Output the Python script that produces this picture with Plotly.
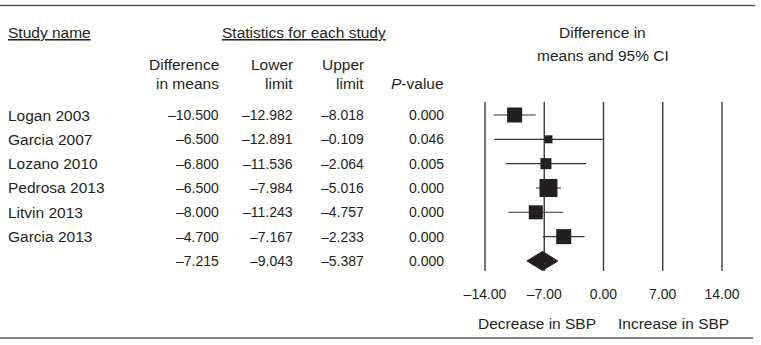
import plotly.graph_objects as go

# ---------------- data ----------------
studies = ["Logan 2003", "Garcia 2007", "Lozano 2010", "Pedrosa 2013", "Litvin 2013", "Garcia 2013"]
diff_means = [-10.500, -6.500, -6.800, -6.500, -8.000, -4.700]
lower_limit = [-12.982, -12.891, -11.536, -7.984, -11.243, -7.167]
upper_limit = [-8.018, -0.109, -2.064, -5.016, -4.757, -2.233]
p_values = [0.000, 0.046, 0.005, 0.000, 0.000, 0.000]
weights = [19.5, 5.5, 10.5, 28.0, 17.0, 19.5]  # relative study weights (%)

summary_mean = -7.215
summary_lower = -9.043
summary_upper = -5.387
summary_p = 0.000

tick_values = [-14, -7, 0, 7, 14]
tick_labels = ["–14.00", "–7.00", "0.00", "7.00", "14.00"]

# ---------------- layout helpers ----------------
W, H = 761, 345
FONT = "Liberation Sans, Arial, sans-serif"
TXT = "#231f20"
TS = 15.5   # text label size
NS = 14     # number size


def px(x):
    return x / W


def py(y):
    return 1 - y / H


def fmt(v):
    return f"{v:.3f}".replace("-", "–")


n = len(studies)
rows = list(range(1, n + 1))
sum_row = n + 1

fig = go.Figure()

# CI lines + squares
fig.add_trace(go.Scatter(
    x=diff_means, y=rows, mode="markers",
    marker=dict(symbol="square", color="#231f20", opacity=1,
                size=[3.4 * w ** 0.5 for w in weights], line=dict(width=0)),
    error_x=dict(type="data", symmetric=False,
                 array=[u - m for u, m in zip(upper_limit, diff_means)],
                 arrayminus=[m - l for m, l in zip(diff_means, lower_limit)],
                 width=0, thickness=1.1, color="#333333"),
    hoverinfo="skip", showlegend=False, cliponaxis=False,
))

# summary diamond
hd = 0.39
fig.add_trace(go.Scatter(
    x=[summary_lower, summary_mean, summary_upper, summary_mean, summary_lower],
    y=[sum_row, sum_row - hd, sum_row, sum_row + hd, sum_row],
    mode="lines", fill="toself", fillcolor="#231f20",
    line=dict(color="#231f20", width=1),
    hoverinfo="skip", showlegend=False,
))

shapes = []
# vertical reference lines
for t in tick_values:
    shapes.append(dict(type="line", xref="x", yref="y", x0=t, x1=t, y0=0.47, y1=sum_row + 0.41,
                       line=dict(color="#3a3a3a", width=1.4), layer="below"))
# horizontal rules
shapes.append(dict(type="line", xref="paper", yref="paper", x0=0, x1=px(755), y0=py(5.5), y1=py(5.5),
                   line=dict(color="#555555", width=1.5)))
shapes.append(dict(type="line", xref="paper", yref="paper", x0=0, x1=px(753), y0=py(338), y1=py(338),
                   line=dict(color="#555555", width=1.5)))

ann = []


def add(text, x, y, xanchor="left", size=TS, yref="paper"):
    ann.append(dict(text=text, x=x, y=y, xref="paper", yref=yref, xanchor=xanchor,
                    yanchor="middle", showarrow=False, borderpad=0,
                    font=dict(family=FONT, size=size, color=TXT)))


# headers
add("<u>Study name</u>", px(7), py(32))
add("<u>Statistics for each study</u>", px(303.5), py(32), "center")
add("Difference in", px(602), py(32), "center")
add("means and 95% CI", px(603), py(55), "center")
add("Difference", px(220), py(64), "right")
add("in means", px(220), py(83), "right")
add("Lower", px(294), py(64), "right")
add("limit", px(294), py(83), "right")
add("Upper", px(365), py(64), "right")
add("limit", px(365), py(83), "right")
add("<i>P</i>-value", px(445), py(83), "right")

# rows
col_x = [px(220), px(294), px(365), px(445)]
for i in range(n):
    r = rows[i]
    add(studies[i], px(7), r, "left", TS, "y")
    add(fmt(diff_means[i]), col_x[0], r, "right", NS, "y")
    add(fmt(lower_limit[i]), col_x[1], r, "right", NS, "y")
    add(fmt(upper_limit[i]), col_x[2], r, "right", NS, "y")
    add(f"{p_values[i]:.3f}", col_x[3], r, "right", NS, "y")
add(fmt(summary_mean), col_x[0], sum_row, "right", NS, "y")
add(fmt(summary_lower), col_x[1], sum_row, "right", NS, "y")
add(fmt(summary_upper), col_x[2], sum_row, "right", NS, "y")
add(f"{summary_p:.3f}", col_x[3], sum_row, "right", NS, "y")

# footer
add("Decrease in SBP", px(536.5), py(323), "center")
add("Increase in SBP", px(673), py(323), "center")

# axis geometry: -14 -> 485px, 14 -> 722px
ppu = (722 - 485) / 28.0
x0_px = 485 - ppu * 1
x1_px = 722 + ppu * 1
row_gap = 24.33
y_top = 1 - 115 / row_gap
y_bot = 1 + (H - 115) / row_gap

fig.update_layout(
    width=W, height=H,
    margin=dict(l=0, r=0, t=0, b=0, pad=0, autoexpand=False),
    paper_bgcolor="white", plot_bgcolor="rgba(0,0,0,0)",
    xaxis=dict(domain=[px(x0_px), px(x1_px)], range=[-15, 15], anchor="free", position=py(284),
               tickvals=tick_values, ticktext=tick_labels, showgrid=False, zeroline=False,
               showline=False, ticks="", tickfont=dict(family=FONT, size=14, color=TXT),
               fixedrange=True, automargin=False),
    yaxis=dict(domain=[0, 1], range=[y_bot, y_top], visible=False, fixedrange=True,
               automargin=False),
    shapes=shapes, annotations=ann,
    showlegend=False,
)

fig.write_html("out.html", config={"displayModeBar": False},
               post_script="document.body.style.margin='0';document.body.style.padding='0';")
